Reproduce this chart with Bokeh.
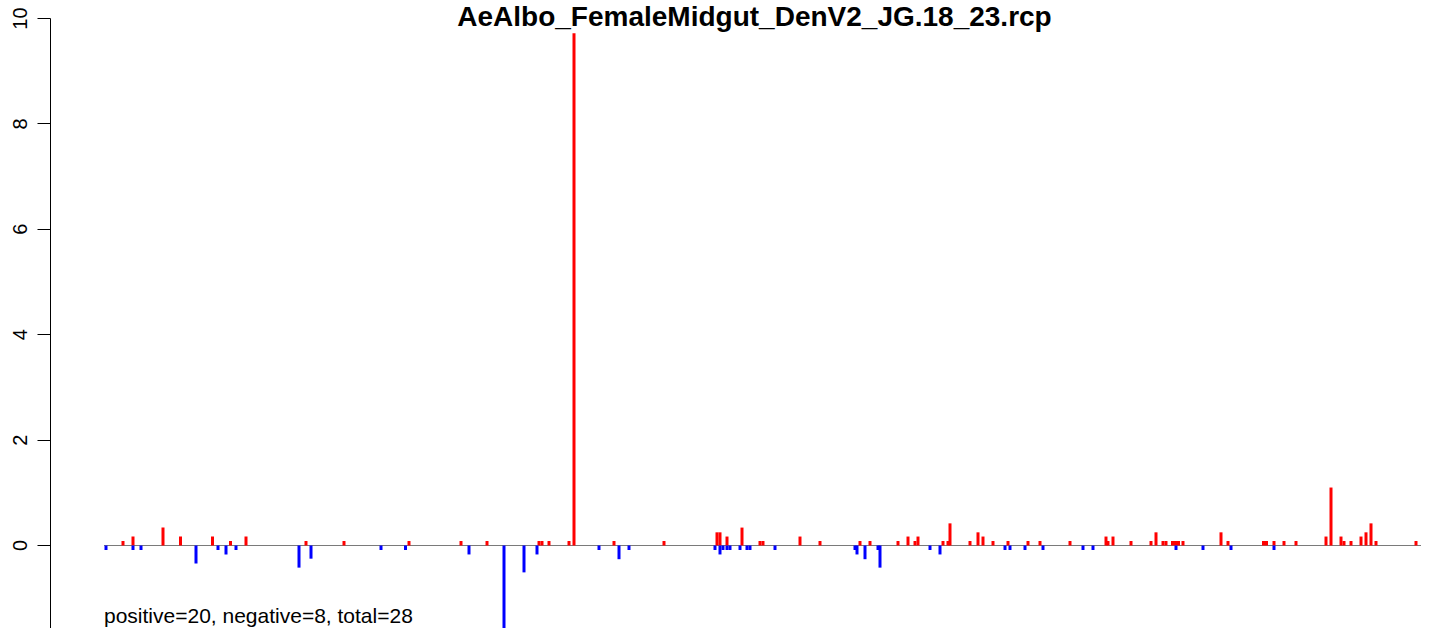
from bokeh.plotting import figure
from bokeh.models import Range1d, FixedTicker, Label
from bokeh.embed import file_html
from bokeh.resources import INLINE

title = "AeAlbo_FemaleMidgut_DenV2_JG.18_23.rcp"
summary = "positive=20, negative=8, total=28"

# positive (red) bars: position along sequence, value
pos_x = [122.5, 132.5, 162.5, 180, 212, 230, 245.5, 305.5, 343.5, 408.5,
         460.5, 486.5, 538.5, 541.5, 548.5, 568.5, 573.5, 613.5, 663.5,
         716.5, 719.5, 726.5, 741.5, 759.5, 762.5, 799.5, 819.5, 859.5,
         869.5, 897.5, 907.5, 914.5, 917.5, 942.5, 947.5, 949.5, 969.5,
         977.5, 982.5, 992.5, 1007.5, 1027.5, 1039.5, 1069.5, 1105.5,
         1107.5, 1112.5, 1130.5, 1150.5, 1155.5, 1162.5, 1165.5, 1172,
         1175, 1178, 1182.5, 1220.5, 1227.5, 1263, 1266, 1273.5, 1283.5,
         1295.5, 1325.5, 1330.5, 1340.5, 1343.5, 1350.5, 1360.5, 1365.5,
         1370.5, 1375.5, 1415.5]
pos_val = [0.085, 0.17, 0.34, 0.17, 0.17, 0.085, 0.17, 0.085, 0.085, 0.085,
           0.085, 0.085, 0.085, 0.085, 0.085, 0.085, 9.72, 0.085, 0.085,
           0.25, 0.25, 0.17, 0.34, 0.085, 0.085, 0.17, 0.085, 0.085,
           0.085, 0.085, 0.17, 0.085, 0.17, 0.085, 0.085, 0.42, 0.085,
           0.25, 0.17, 0.085, 0.085, 0.085, 0.085, 0.085, 0.17,
           0.085, 0.17, 0.085, 0.085, 0.25, 0.085, 0.085, 0.085,
           0.085, 0.085, 0.085, 0.25, 0.085, 0.085, 0.085, 0.085, 0.085,
           0.085, 0.17, 1.10, 0.17, 0.085, 0.085, 0.17, 0.25,
           0.42, 0.085, 0.085]

# negative (blue) bars
neg_x = [105.5, 132.5, 140.5, 195.5, 217.5, 225.5, 235.5, 298.5, 310.5,
         380.5, 405, 468.5, 503.5, 523.5, 536.5, 598.5, 618.5, 628.5,
         714.5, 719.5, 722.5, 726.5, 729.5, 739.5, 746.5, 749.5, 774.5,
         854.5, 856.5, 864.5, 877.5, 879.5, 929.5, 939.5, 1004.5, 1009.5,
         1024.5, 1042.5, 1082.5, 1092.5, 1175.5, 1202.5, 1230.5, 1273.5]
neg_val = [-0.085, -0.085, -0.085, -0.34, -0.085, -0.17, -0.085, -0.42, -0.25,
           -0.085, -0.085, -0.17, -1.575, -0.51, -0.17, -0.085, -0.26, -0.085,
           -0.085, -0.17, -0.085, -0.085, -0.085, -0.085, -0.085, -0.085, -0.085,
           -0.085, -0.17, -0.26, -0.085, -0.42, -0.085, -0.17, -0.085, -0.085,
           -0.085, -0.085, -0.085, -0.085, -0.085, -0.085, -0.085, -0.085]

y_ticks = [-2, 0, 2, 4, 6, 8, 10]

x_start, x_end = 50, 1421
y_start, y_end = -1.575, 10.3416

p = figure(width=1421, height=628, output_backend="svg", toolbar_location=None,
           x_range=Range1d(x_start, x_end), y_range=Range1d(y_start, y_end),
           x_axis_location=None,
           min_border_left=50, min_border_right=0, min_border_top=0, min_border_bottom=0)
p.grid.visible = False
p.outline_line_color = None
p.background_fill_color = "white"
p.border_fill_color = "white"

ax = p.yaxis[0]
ax.ticker = FixedTicker(ticks=y_ticks)
ax.bounds = (-2, 10)
ax.minor_tick_line_color = None
ax.major_tick_in = 0
ax.major_tick_out = 13
ax.major_label_standoff = 10
ax.major_label_orientation = "vertical"
ax.major_label_text_font = "Liberation Sans"
ax.major_label_text_font_size = "20px"
ax.major_label_text_color = "black"
ax.axis_line_color = "black"
ax.major_tick_line_color = "black"

# zero baseline
x0 = min(min(pos_x), min(neg_x)) - 2
p.segment(x0=[x0], y0=[0], x1=[x_end], y1=[0], line_color="#7a7a7a", line_width=1.2)

p.vbar(x=pos_x, top=pos_val, bottom=0, width=3, fill_color="#ff0000", line_color=None)
p.vbar(x=neg_x, top=0, bottom=neg_val, width=3, fill_color="#0000ff", line_color=None)

p.add_layout(Label(x=754, y=y_end, text=title, text_align="center", text_baseline="top",
                   text_font="Liberation Sans", text_font_style="bold",
                   text_font_size="28px", text_color="black"))
p.add_layout(Label(x=x0, y=-1.33, text=summary, text_align="left", text_baseline="alphabetic",
                   text_font="Liberation Sans", text_font_size="21px", text_color="black"))

open("out.html", "w").write(file_html(p, INLINE))
